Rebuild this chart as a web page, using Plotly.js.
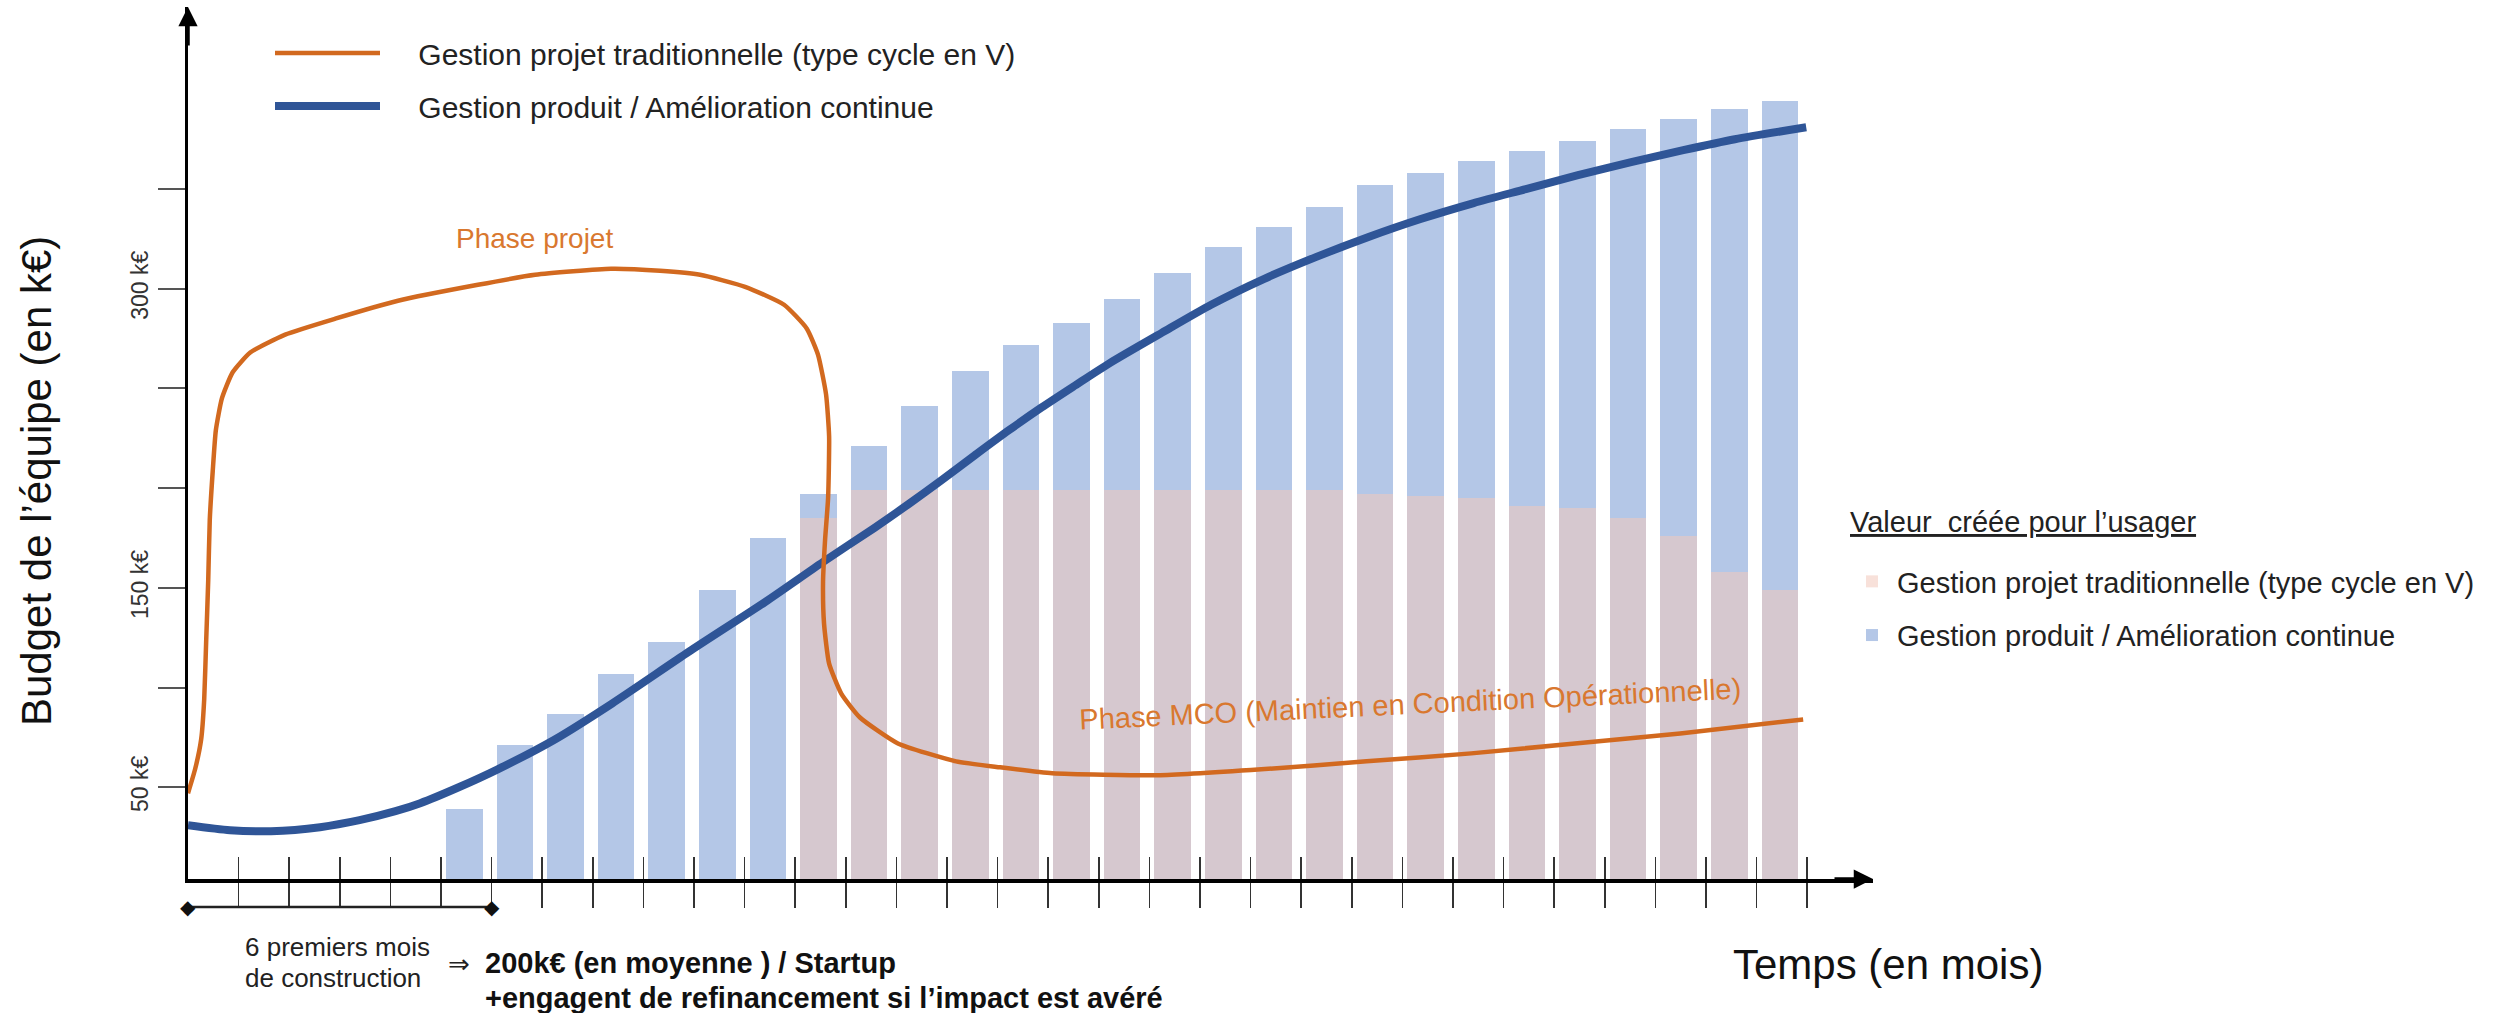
<!DOCTYPE html>
<html>
<head>
<meta charset="utf-8">
<script src="https://cdn.plot.ly/plotly-3.0.1.min.js"></script>
<style>
  html, body { margin: 0; padding: 0; background: #ffffff; }
  #chart { width: 2496px; height: 1013px; }
</style>
</head>
<body>
<div id="chart"></div>
<script>
// ---------- Data ----------
// Bars: one per month, months 6 .. 32
const months = [6, 7, 8, 9, 10, 11, 12, 13, 14, 15, 16, 17, 18, 19, 20, 21, 22, 23, 24, 25, 26, 27, 28, 29, 30, 31, 32];
// Valeur créée – Gestion produit / Amélioration continue (k€)
const valeurProduit = [39, 71, 87, 107, 123, 149, 175, 197, 221, 241, 259, 272, 283, 295, 308, 321, 331, 341, 352, 358, 364, 369, 374, 380, 385, 390, 394];
// Valeur créée – Gestion projet traditionnelle (k€)
const valeurProjet = [null, null, null, null, null, null, null, 185, 199, 199, 199, 199, 199, 199, 199, 199, 199, 199, 197, 196, 195, 191, 190, 185, 176, 158, 149];

// Budget curve – Gestion projet traditionnelle (parametric path: month, k€)
const projetMois = [0, 0.14, 0.26, 0.32, 0.36, 0.40, 0.43, 0.49, 0.55, 0.67, 0.88, 1.23, 1.92, 2.91, 4.15, 5.73, 6.86, 8.36, 9.33, 10.12, 11.01, 11.78, 12.23, 12.45, 12.61, 12.67, 12.65, 12.59, 12.55, 12.57, 12.67, 12.91, 13.28, 14.03, 15.18, 16.05, 17.08, 19.16, 21.21, 23.29, 25.36, 27.41, 29.49, 31.92];
const projetBudget = [47, 59, 74, 94, 124, 154, 184, 209, 229, 245, 258, 268, 277, 285, 294, 302, 307, 310, 309, 307, 301, 292, 280, 267, 247, 226, 195, 174, 153, 132, 112, 97, 85, 72, 63, 60, 57, 56, 59, 63, 67, 72, 77, 84];

// Budget curve – Gestion produit / Amélioration continue (month, k€)
const produitMois = [0, 0.83, 1.64, 2.61, 3.39, 4.10, 4.59, 5.35, 6.12, 7.25, 8.38, 9.90, 11.41, 12.55, 13.56, 14.24, 14.89, 15.55, 16.22, 16.87, 17.53, 18.20, 19.25, 20.22, 21.27, 22.30, 23.33, 24.36, 25.41, 26.44, 27.47, 28.52, 29.55, 30.57, 31.98];
const produitBudget = [31, 28.5, 28, 30, 33.5, 38, 42, 50, 59, 74, 92, 118, 143, 163, 180, 192, 204, 216.5, 229, 240.5, 251.5, 262.5, 278, 292, 305, 316, 326, 335, 343, 350, 357, 363.5, 369.5, 375, 381];

// Axis ticks
const xTickVals = [1, 2, 3, 4, 5, 6, 7, 8, 9, 10, 11, 12, 13, 14, 15, 16, 17, 18, 19, 20, 21, 22, 23, 24, 25, 26, 27, 28, 29, 30, 31, 32];
const yTickVals = [50, 100, 150, 200, 250, 300, 350];
const yTickText = ['50 k€', '', '150 k€', '', '', '300 k€', ''];

// Labels
const nomProjet = 'Gestion projet traditionnelle (type cycle en V)';
const nomProduit = 'Gestion produit / Amélioration continue';
const PAD = '\u00A0\u00A0\u00A0\u00A0';

// ---------- Styles ----------
const ORANGE = '#D2691F';
const BLUE = '#2F5597';
const BAR_BLUE = '#B4C7E7';
const BAR_ORANGE = 'rgba(243,200,188,0.55)';
const FONT = 'Liberation Sans, Arial, sans-serif';

const traces = [
  {
    type: 'bar', x: months, y: valeurProduit, name: nomProduit,
    marker: { color: BAR_BLUE }, width: 0.72, offset: -0.9,
    legend: 'legend2', legendgroup: 'b', legendrank: 2, hoverinfo: 'skip'
  },
  {
    type: 'bar', x: months, y: valeurProjet, name: nomProjet,
    marker: { color: BAR_ORANGE }, width: 0.72, offset: -0.9,
    legend: 'legend2', legendgroup: 'a', legendrank: 1, hoverinfo: 'skip'
  },
  {
    type: 'scatter', mode: 'lines', x: produitMois, y: produitBudget, name: PAD + nomProduit,
    line: { color: BLUE, width: 8, shape: 'spline', smoothing: 0.7 },
    legend: 'legend', legendgroup: 'd', legendrank: 2, hoverinfo: 'skip'
  },
  {
    type: 'scatter', mode: 'lines', x: projetMois, y: projetBudget, name: PAD + nomProjet,
    line: { color: ORANGE, width: 4.5, shape: 'spline', smoothing: 0.5 },
    legend: 'legend', legendgroup: 'c', legendrank: 1, hoverinfo: 'skip'
  },
  {
    type: 'scatter', mode: 'lines', x: xTickVals, y: xTickVals.map(() => null),
    xaxis: 'x2', yaxis: 'y', showlegend: false, hoverinfo: 'skip'
  }
];

const W = 2496, H = 1013;
const L = 188, R = 623, T = 7, B = 134;
const plotW = W - L - R, plotH = H - T - B;
const px2paperX = px => (px - L) / plotW;
const px2paperY = py => (H - B - py) / plotH;

function label(px, py, text, font, extra) {
  return Object.assign({
    xref: 'paper', yref: 'paper', x: px2paperX(px), y: px2paperY(py), text: text,
    xanchor: 'center', yanchor: 'middle', showarrow: false, font: font
  }, extra || {});
}

const annotations = [
  // axis arrows
  { xref: 'paper', yref: 'paper', x: 0, y: 1, ax: 0, ay: 40, text: '', showarrow: true,
    arrowhead: 2, arrowsize: 1.1, arrowwidth: 3.5, arrowcolor: '#000' },
  { xref: 'paper', yref: 'paper', x: 1, y: 0, ax: -40, ay: 0, text: '', showarrow: true,
    arrowhead: 2, arrowsize: 1.1, arrowwidth: 3.5, arrowcolor: '#000' },
  // axis titles
  label(36, 481, 'Budget de l’équipe (en k€)', { family: FONT, size: 42, color: '#111' }, { textangle: -90 }),
  label(1888, 965, 'Temps (en mois)', { family: FONT, size: 42, color: '#111' }),
  // phase labels
  label(534, 238, 'Phase projet', { family: FONT, size: 28, color: '#D9782F' }),
  label(1410, 704, 'Phase MCO (Maintien en Condition Opérationnelle)', { family: FONT, size: 29, color: '#D9782F' }, { textangle: -2.7 }),
  // bracket ends
  { xref: 'x', yref: 'paper', x: 0, y: px2paperY(907), text: '◆', showarrow: false, xanchor: 'center', yanchor: 'middle',
    font: { family: 'DejaVu Sans', size: 20, color: '#111' } },
  { xref: 'x', yref: 'paper', x: 6, y: px2paperY(907), text: '◆', showarrow: false, xanchor: 'center', yanchor: 'middle',
    font: { family: 'DejaVu Sans', size: 20, color: '#111' } },
  // bottom notes
  label(243, 947, '6 premiers mois', { family: FONT, size: 26, color: '#222' }, { xanchor: 'left' }),
  label(243, 978, 'de construction', { family: FONT, size: 26, color: '#222' }, { xanchor: 'left' }),
  label(459, 964, '⇒', { family: 'DejaVu Sans', size: 26, color: '#222' }),
  label(483, 963, '<b>200k€ (en moyenne ) / Startup</b>', { family: FONT, size: 29, color: '#111' }, { xanchor: 'left' }),
  label(483, 998, '<b>+engagent de refinancement si l’impact est avéré</b>', { family: FONT, size: 29, color: '#111' }, { xanchor: 'left' }),
  // title of the value legend
  label(1848, 522, '<u>Valeur  créée pour l’usager</u>', { family: FONT, size: 29, color: '#222' }, { xanchor: 'left' })
];

const layout = {
  width: W, height: H,
  margin: { l: L, r: R, t: T, b: B, pad: 0, autoexpand: false },
  paper_bgcolor: '#ffffff', plot_bgcolor: '#ffffff',
  font: { family: FONT, color: '#222' },
  barmode: 'overlay', bargap: 0,
  showlegend: true,
  xaxis: {
    range: [0, 33.3], tickmode: 'array', tickvals: xTickVals, showticklabels: false,
    ticks: 'outside', ticklen: 25, tickwidth: 1.5, tickcolor: '#333',
    showline: true, linewidth: 3.5, linecolor: '#000', showgrid: false, zeroline: false, fixedrange: true
  },
  xaxis2: {
    overlaying: 'x', anchor: 'y', side: 'bottom', range: [0, 33.3],
    tickmode: 'array', tickvals: xTickVals, showticklabels: false,
    ticks: 'inside', ticklen: 22, tickwidth: 1.5, tickcolor: '#333',
    showline: false, showgrid: false, zeroline: false, fixedrange: true
  },
  yaxis: {
    range: [4, 4 + plotH / 1.994], tickmode: 'array', tickvals: yTickVals, ticktext: yTickText,
    ticks: 'outside', ticklen: 27, tickwidth: 2, tickcolor: '#555', tickangle: -90,
    tickfont: { family: FONT, size: 23, color: '#333' },
    showline: true, linewidth: 3.5, linecolor: '#000', showgrid: false, zeroline: false, fixedrange: true
  },
  legend: {
    x: px2paperX(270), y: px2paperY(27), xanchor: 'left', yanchor: 'top',
    bgcolor: 'rgba(0,0,0,0)', borderwidth: 0, itemwidth: 105, tracegroupgap: 11,
    font: { family: FONT, size: 30, color: '#222' }, itemclick: false, itemdoubleclick: false
  },
  legend2: {
    x: px2paperX(1847), y: px2paperY(556), xanchor: 'left', yanchor: 'top',
    bgcolor: 'rgba(0,0,0,0)', borderwidth: 0, itemwidth: 40, tracegroupgap: 13,
    font: { family: FONT, size: 29, color: '#222' }, itemclick: false, itemdoubleclick: false
  },
  shapes: [
    { type: 'line', xref: 'x', yref: 'paper', x0: 0, x1: 6, y0: px2paperY(907), y1: px2paperY(907),
      line: { color: '#222', width: 2.5 } }
  ],
  annotations: annotations
};

Plotly.newPlot('chart', traces, layout, { displayModeBar: false, staticPlot: true });
</script>
</body>
</html>
